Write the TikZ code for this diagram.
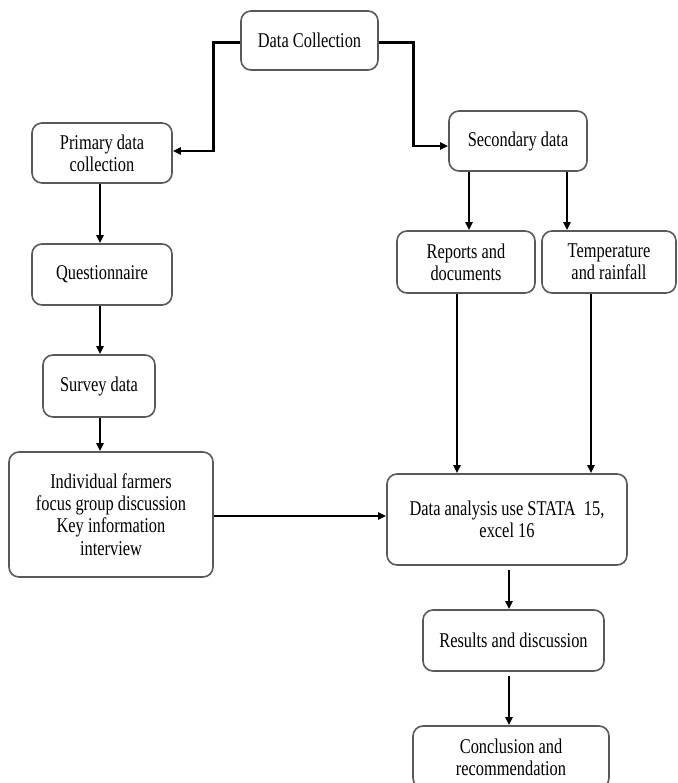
\documentclass[tikz,border=0pt]{standalone}
\usepackage{fontspec}
\setmainfont[FakeStretch=0.78]{Liberation Serif}
\usetikzlibrary{arrows.meta,calc}
\begin{document}
\begin{tikzpicture}[x=1pt,y=-1pt,
  box/.style={draw=black!65, line width=1.6pt, rounded corners=10pt, fill=white,
    align=center, inner sep=2pt, text=black,
    font=\fontsize{21}{22.3}\selectfont},
  arr/.style={draw=black, line width=2.2pt,
    -{Triangle[length=8pt,width=7pt]}},
  arrthick/.style={arr, line width=2.8pt}]
\useasboundingbox (0,0) rectangle (677,783);
\clip (0,0) rectangle (677,783);

\node[box, minimum width=137pt, minimum height=59pt] (dc) at (309.5,40.5) {Data Collection};
\node[box, minimum width=140pt, minimum height=60pt] (prim) at (102,153) {Primary data\\collection};
\node[box, minimum width=140pt, minimum height=61pt] (quest) at (102,274.5) {Questionnaire};
\node[box, minimum width=112pt, minimum height=62pt] (survey) at (99,386) {Survey data};
\node[box, minimum width=204pt, minimum height=125pt] (indiv) at (111,514.5) {Individual farmers\\focus group discussion\\Key information\\interview};
\node[box, minimum width=138pt, minimum height=60pt] (sec) at (518,141) {Secondary data};
\node[box, minimum width=138pt, minimum height=62pt] (rep) at (466,262) {Reports and\\documents};
\node[box, minimum width=134pt, minimum height=62pt] (temp) at (609,262) {Temperature\\and rainfall};
\node[box, minimum width=240pt, minimum height=91pt] (ana) at (507,519.5) {Data analysis use STATA\ \ 15,\\excel 16};
\node[box, minimum width=181pt, minimum height=61pt] (res) at (513.5,640.5) {Results and discussion};
\node[box, minimum width=196pt, minimum height=62pt] (conc) at (511,757) {Conclusion and\\recommendation};

\draw[arrthick] ($(dc.west)+(0,2)$) -- ++(-27,0) |- ($(prim.east)+(0,-2)$);
\draw[arrthick] ($(dc.east)+(0,2)$) -- ++(35,0) |- ($(sec.west)+(0,5)$);

\draw[arr] (prim.south -| 100,0) -- (quest.north -| 100,0);
\draw[arr] (quest.south -| 100,0) -- (survey.north -| 100,0);
\draw[arr] (survey.south -| 100,0) -- (indiv.north -| 100,0);
\draw[arrthick] (indiv.east |- 0,516) -- (ana.west |- 0,516);

\draw[arr] (sec.south -| 469,0) -- (rep.north -| 469,0);
\draw[arr] (sec.south -| 567,0) -- (temp.north -| 567,0);
\draw[arr] (rep.south -| 457,0) -- (ana.north -| 457,0);
\draw[arr] (temp.south -| 591,0) -- (ana.north -| 591,0);

\draw[arr] ($(ana.south -| 509,0)+(0,4)$) -- (res.north -| 509,0);
\draw[arr] ($(res.south -| 509,0)+(0,4)$) -- (conc.north -| 509,0);
\end{tikzpicture}
\end{document}
